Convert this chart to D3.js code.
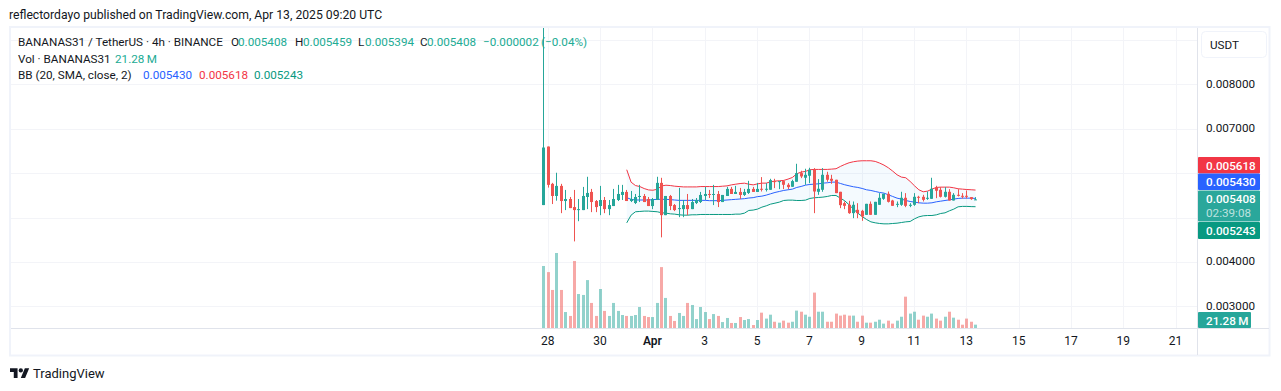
<!DOCTYPE html>
<html>
<head>
<meta charset="utf-8">
<script src="https://cdn.jsdelivr.net/npm/d3@7"></script>
<style>
  html, body { margin: 0; padding: 0; background: #fff; overflow: hidden; }
  text { font-family: Roboto, sans-serif; font-size: 11.7px; fill: #131722; }
</style>
</head>
<body>
<svg id="chart" width="1281" height="391"></svg>
<script>
// prices are in thousandths of USDT (5.408 = 0.005408), volume in millions
const opens = [5.28,6.598,5.758,5.485,5.712,5.371,5.417,5.235,5.167,5.167,5.462,5.576,5.371,5.258,5.394,5.189,5.258,5.394,5.508,5.576,
  5.371,5.326,5.462,5.485,5.417,5.258,5.394,5.78,5.053,5.485,5.28,5.189,5.189,5.28,5.189,5.326,5.348,5.485,5.53,5.508,
  5.53,5.348,5.485,5.644,5.53,5.576,5.508,5.553,5.644,5.576,5.647,5.624,5.624,5.82,5.797,5.82,5.737,5.692,5.805,6,
  5.895,5.94,6.075,5.579,5.624,5.962,5.872,5.85,5.579,5.323,5.286,5.098,5.173,5.15,5.06,5.308,5.06,5.286,5.421,5.534,
  5.383,5.286,5.286,5.444,5.263,5.286,5.466,5.466,5.421,5.421,5.677,5.624,5.466,5.579,5.383,5.511,5.489,5.489,5.459,5.394];
const highs = [9.295,6.598,5.78,6.008,5.758,5.621,5.462,5.621,5.417,5.689,5.917,5.644,5.394,5.712,5.462,5.394,5.644,5.735,5.735,5.621,
  5.598,5.53,5.735,5.53,5.462,5.439,5.917,5.894,5.485,5.508,5.303,5.667,5.394,5.53,5.417,5.439,5.576,5.689,5.621,5.735,
  5.598,5.508,5.689,5.689,5.712,5.667,5.644,5.826,5.689,5.78,5.91,5.774,5.872,5.872,5.82,5.842,5.774,5.85,6.21,6.053,
  6.098,6.12,6.113,5.865,6.113,6.03,5.962,5.85,5.579,5.361,5.376,5.361,5.323,5.173,5.308,5.361,5.353,5.549,5.534,5.586,
  5.398,5.361,5.579,5.549,5.323,5.549,5.489,5.511,5.586,5.895,5.714,5.684,5.684,5.639,5.549,5.639,5.549,5.609,5.459,5.459];
const lows = [5.28,5.674,5.303,5.379,5.098,5.167,5.212,4.462,4.917,5.167,5.189,5.121,5.121,5.053,5.098,5.053,5.258,5.371,5.394,5.371,
  5.348,5.303,5.348,5.348,5.258,5.189,5.394,4.553,5.053,5.167,5.144,5.008,5.008,5.053,5.189,5.303,5.326,5.394,5.439,5.28,
  5.235,5.348,5.485,5.53,5.53,5.417,5.485,5.53,5.576,5.576,5.586,5.586,5.624,5.662,5.639,5.639,5.639,5.692,5.805,5.887,
  5.737,5.774,5.098,5.511,5.579,5.805,5.759,5.549,5.211,5.188,5.083,4.985,4.985,4.925,5.06,5.06,5.06,5.286,5.398,5.338,
  5.263,5.233,5.263,5.233,5.233,5.263,5.323,5.361,5.398,5.421,5.436,5.451,5.451,5.383,5.383,5.474,5.429,5.429,5.398,5.394];
const closes = [6.576,5.735,5.485,5.712,5.371,5.417,5.212,5.167,5.189,5.485,5.553,5.348,5.235,5.394,5.189,5.28,5.417,5.53,5.576,5.371,
  5.417,5.462,5.485,5.348,5.258,5.417,5.78,5.053,5.485,5.258,5.167,5.212,5.28,5.189,5.348,5.394,5.508,5.53,5.508,5.53,
  5.348,5.508,5.644,5.53,5.576,5.508,5.576,5.644,5.576,5.644,5.624,5.647,5.842,5.797,5.82,5.737,5.684,5.82,6,5.925,
  5.962,6.075,5.586,5.647,5.962,5.85,5.827,5.549,5.278,5.263,5.098,5.286,5.098,5.023,5.308,5.06,5.353,5.444,5.534,5.353,
  5.263,5.308,5.444,5.263,5.286,5.466,5.444,5.398,5.444,5.647,5.602,5.466,5.579,5.383,5.511,5.489,5.466,5.466,5.414,5.408];
const volumes = [396,357,243,479,243,102,77,428,217,211,306,160,77,249,109,77,160,109,83,77,
  77,83,134,77,70,70,160,389,192,77,45,96,77,160,147,57,134,102,57,89,
  77,38,64,32,32,70,51,57,19,51,98,60,85,40,34,47,34,40,111,104,
  85,72,226,104,104,40,40,92,79,85,79,79,40,79,34,34,40,53,28,47,
  28,47,72,200,92,104,53,79,72,92,60,47,72,104,66,53,21,60,40,21.28];

// bollinger bands start on candle 19 (20 period SMA)
const bandStart = 19;
const bbUpper = [6.076,5.795,5.72,5.697,5.652,5.621,5.614,5.636,5.712,5.727,5.72,5.705,5.697,5.689,5.689,5.689,5.689,5.697,5.697,5.697,
  5.697,5.697,5.705,5.712,5.735,5.75,5.765,5.773,5.75,5.735,5.758,5.774,5.774,5.805,5.82,5.827,5.835,5.865,5.902,5.985,
  6.023,6.038,6.075,6.083,6.083,6.083,6.083,6.09,6.098,6.15,6.195,6.233,6.256,6.271,6.278,6.278,6.278,6.263,6.226,6.18,
  6.12,6.045,5.962,5.91,5.895,5.812,5.714,5.624,5.579,5.594,5.639,5.677,5.684,5.684,5.684,5.669,5.647,5.639,5.63,5.625,5.618];
const bbMiddle = [5.447,5.409,5.394,5.394,5.394,5.394,5.402,5.409,5.409,5.409,5.402,5.394,5.386,5.386,5.386,5.386,5.386,5.386,5.386,5.379,
  5.379,5.379,5.386,5.394,5.402,5.409,5.417,5.424,5.439,5.447,5.47,5.481,5.504,5.534,5.564,5.586,5.609,5.624,5.639,5.677,
  5.699,5.729,5.744,5.752,5.759,5.774,5.782,5.797,5.797,5.767,5.737,5.714,5.692,5.677,5.654,5.624,5.609,5.586,5.564,5.549,
  5.511,5.474,5.436,5.414,5.383,5.361,5.346,5.331,5.323,5.323,5.331,5.353,5.368,5.383,5.398,5.414,5.429,5.436,5.436,5.436,5.43];
const bbLower = [4.879,5.053,5.129,5.136,5.144,5.144,5.136,5.129,5.106,5.098,5.083,5.076,5.061,5.053,5.053,5.061,5.061,5.068,5.068,5.068,
  5.068,5.068,5.068,5.068,5.068,5.076,5.076,5.098,5.159,5.167,5.189,5.233,5.263,5.301,5.323,5.346,5.383,5.391,5.391,5.383,
  5.383,5.391,5.429,5.444,5.451,5.459,5.474,5.496,5.496,5.436,5.376,5.286,5.188,5.098,5.023,4.955,4.902,4.88,4.865,4.857,
  4.857,4.865,4.872,4.887,4.902,4.91,4.97,5.015,5.038,5.045,5.045,5.06,5.09,5.105,5.15,5.188,5.241,5.25,5.25,5.245,5.243];

// candle index of each date label on the time axis
const dayTicks = [1,13,25,37,49,61,73,85,97,109,121,133,145];
const dayLabels = ["28","30","Apr","3","5","7","9","11","13","15","17","19","21"];
const priceTicks = [3,4,5,6,7,8,9];
const hiddenPriceLabels = [5,6,9]; // sit behind the price tags / currency button

const green = "#26a69a", red = "#ef5350";
const gridColor = "#f3f4f8", lineColor = "#e0e3eb";

let svg = d3.select("#chart");

let x = d3.scaleLinear().domain([0, 145]).range([543.9, 1176.1]);
let y = d3.scaleLinear().domain([3, 8]).range([306.3, 84.3]);
let yVol = d3.scaleLinear().domain([0, 479]).range([328, 253]);
let px = i => Math.floor(x(i));

// outer frame
svg.append("rect").attr("x", 10).attr("y", 27).attr("width", 1259.5).attr("height", 328.5)
    .attr("fill", "#fff").attr("stroke", "#f0f3fa").attr("stroke-width", 2);

svg.append("defs").append("clipPath").attr("id", "pane")
    .append("rect").attr("x", 11).attr("y", 28).attr("width", 1186).attr("height", 300);

// grid
let plot = svg.append("g").attr("clip-path", "url(#pane)");
plot.selectAll("line.h").data(priceTicks).enter().append("line")
    .attr("x1", 11).attr("x2", 1197)
    .attr("y1", d => Math.round(y(d)) + 0.5).attr("y2", d => Math.round(y(d)) + 0.5)
    .attr("stroke", gridColor);
plot.selectAll("line.v").data(dayTicks).enter().append("line")
    .attr("x1", d => px(d) + 0.5).attr("x2", d => px(d) + 0.5)
    .attr("y1", 28).attr("y2", 328)
    .attr("stroke", gridColor);

// volume
plot.selectAll("rect.vol").data(volumes).enter().append("rect")
    .attr("x", (d, i) => px(i) - 1)
    .attr("width", 3)
    .attr("y", d => yVol(d))
    .attr("height", d => yVol(0) - yVol(d))
    .attr("fill", (d, i) => closes[i] >= opens[i] ? green : red)
    .attr("fill-opacity", 0.5);

// bollinger fill and lines
let area = d3.area()
    .x((d, i) => x(i + bandStart))
    .y0((d, i) => y(bbLower[i]))
    .y1(d => y(d));
plot.append("path").datum(bbUpper).attr("d", area).attr("fill", "#2196f3").attr("fill-opacity", 0.05);

let line = d3.line().x((d, i) => x(i + bandStart)).y(d => y(d));
[[bbUpper, "#f23645"], [bbMiddle, "#2962ff"], [bbLower, "#089981"]].forEach(b => {
    plot.append("path").datum(b[0]).attr("d", line)
        .attr("fill", "none").attr("stroke", b[1]).attr("stroke-width", 1);
});

// candles
let candle = plot.selectAll("g.candle").data(opens).enter().append("g")
    .attr("fill", (d, i) => closes[i] >= opens[i] ? green : red);
candle.append("rect")
    .attr("x", (d, i) => px(i))
    .attr("width", 1)
    .attr("y", (d, i) => y(highs[i]))
    .attr("height", (d, i) => y(lows[i]) - y(highs[i]));
candle.append("rect")
    .attr("x", (d, i) => px(i) - 1)
    .attr("width", 3)
    .attr("y", (d, i) => y(Math.max(opens[i], closes[i])))
    .attr("height", (d, i) => Math.max(1, Math.abs(y(opens[i]) - y(closes[i]))));

// axis lines
svg.append("line").attr("x1", 11).attr("x2", 1269).attr("y1", 328.5).attr("y2", 328.5).attr("stroke", lineColor);
svg.append("line").attr("x1", 1197.5).attr("x2", 1197.5).attr("y1", 28).attr("y2", 355).attr("stroke", lineColor);

// time axis
let timeAxis = d3.axisBottom(x)
    .tickValues(dayTicks)
    .tickSize(0)
    .tickPadding(7)
    .tickFormat((d, i) => dayLabels[i]);
let tg = svg.append("g").attr("transform", "translate(-1,329)").call(timeAxis);
tg.select(".domain").remove();
tg.selectAll("text")
    .style("font-size", "12px")
    .style("font-family", "Roboto, sans-serif")
    .style("font-weight", (d, i) => dayLabels[i] == "Apr" ? 600 : 400)
    .attr("fill", "#131722");

// price axis
let priceAxis = d3.axisRight(y)
    .tickValues(priceTicks.filter(d => !hiddenPriceLabels.includes(d)))
    .tickSize(0)
    .tickPadding(9)
    .tickFormat(d => d3.format(".6f")(d / 1000));
let pg = svg.append("g").attr("transform", "translate(1197,-1)").call(priceAxis);
pg.select(".domain").remove();
pg.selectAll("text")
    .style("font-size", "11.7px")
    .style("font-family", "Roboto, sans-serif")
    .attr("fill", "#131722");

// currency button
svg.append("rect").attr("x", 1201.5).attr("y", 31.5).attr("width", 65).attr("height", 26).attr("rx", 4)
    .attr("fill", "#fff").attr("stroke", "#f0f3fa");
svg.append("text").attr("x", 1210).attr("y", 49).text("USDT");

// price tags
function tag(top, h, w, color, label, sub) {
    svg.append("rect").attr("x", 1198).attr("y", top).attr("width", w).attr("height", h)
        .attr("rx", 1).attr("fill", color);
    svg.append("text").attr("x", 1206).attr("y", top + 12.5).text(label)
        .style("fill", "#fff").style("font-weight", 500);
    if (sub) {
        svg.append("text").attr("x", 1206).attr("y", top + 26).text(sub)
            .style("fill", "#fff").style("fill-opacity", 0.7);
    }
}
tag(157, 16.5, 62, "#f23645", "0.005618");
tag(173.5, 16.5, 62, "#2962ff", "0.005430");
tag(190.5, 31, 62, "#2aa79b", "0.005408", "02:39:08");
tag(222, 17, 62, "#089981", "0.005243");
tag(312, 16, 53, green, "21.28\u2009M");

// header and footer
svg.append("text").attr("x", 9).attr("y", 19).text("reflectordayo published on TradingView.com, Apr 13, 2025 09:20 UTC")
    .style("font-size", "12.2px");
let logo = svg.append("g").attr("transform", "translate(10,366.1) scale(0.54)").attr("fill", "#131722");
logo.append("path").attr("d", "M14 22H7V11H0V4h14v18zM28 22h-8l7.5-18h8L28 22z");
logo.append("circle").attr("cx", 20).attr("cy", 8).attr("r", 4);
svg.append("text").attr("x", 33).attr("y", 378).text("TradingView").style("font-size", "13px");

// legend
const teal = "#22ab94";
[
    [18, 46, "BANANAS31 / TetherUS · 4h · BINANCE", "#131722"],
    [231, 46, "O", "#131722"], [238, 46, "0.005408", teal],
    [295, 46, "H", "#131722"], [303, 46, "0.005459", teal],
    [358, 46, "L", "#131722"], [365, 46, "0.005394", teal],
    [420, 46, "C", "#131722"], [427, 46, "0.005408", teal],
    [483, 46, "−0.000002", teal], [541, 46, "(−0.04%)", teal],
    [18, 63, "Vol · BANANAS31", "#131722"], [115, 63, "21.28\u2009M", teal],
    [18, 79, "BB (20, SMA, close, 2)", "#131722"],
    [143, 79, "0.005430", "#2962ff"], [199, 79, "0.005618", "#f23645"], [254, 79, "0.005243", "#089981"]
].forEach(t => {
    svg.append("text").attr("x", t[0]).attr("y", t[1]).text(t[2]).style("fill", t[3]);
});
</script>
</body>
</html>
